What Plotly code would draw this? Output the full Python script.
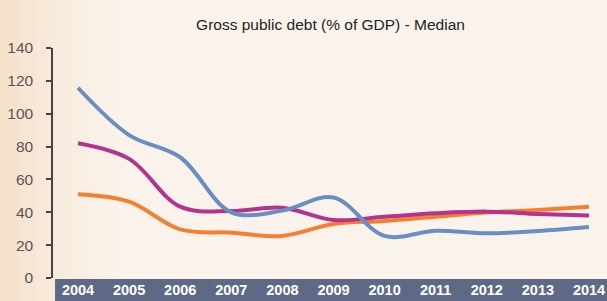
import plotly.graph_objects as go

years = [2004, 2005, 2006, 2007, 2008, 2009, 2010, 2011, 2012, 2013, 2014]
series_blue = [115.8, 87, 73.5, 40, 41, 49, 25.6, 28.8, 27.2, 28.6, 31]
series_magenta = [82, 72.5, 43.4, 40.8, 42.8, 35.3, 37.3, 39.4, 40.4, 39, 38]
series_orange = [51, 46.5, 29.6, 27.6, 25.6, 32.9, 34.7, 37.3, 39.8, 41.4, 43.4]
y_ticks = [0, 20, 40, 60, 80, 100, 120, 140]
title_text = "Gross public debt (% of GDP) - Median"

W, H = 607, 301
ML, MR, MT, MB = 53, 0, 48, 23
PW = W - ML - MR
PH = H - MT - MB
FONT = "Liberation Sans, Arial, sans-serif"

def px2paper_x(p):
    return (p - ML) / PW

def px2paper_y(p):
    return (H - MB - p) / PH

fig = go.Figure()
for vals, col in [(series_orange, "#F4802F"), (series_magenta, "#B3338E"), (series_blue, "#6A8EC2")]:
    fig.add_trace(go.Scatter(x=years, y=vals, mode="lines",
                             line=dict(color=col, width=4, shape="spline", smoothing=1.0),
                             hoverinfo="skip", showlegend=False))

shapes = []
# left gradient
steps = 14
for i in range(steps):
    x0 = i * 9
    x1 = x0 + 9
    op = 0.7 * (1 - i / steps) ** 1.5
    shapes.append(dict(type="rect", xref="paper", yref="paper",
                       x0=px2paper_x(x0), x1=px2paper_x(x1),
                       y0=px2paper_y(H), y1=px2paper_y(0),
                       fillcolor="#F3D9BC", opacity=op, line=dict(width=0), layer="below"))
# x band
shapes.append(dict(type="rect", xref="paper", yref="paper",
                   x0=px2paper_x(55), x1=1.0,
                   y0=px2paper_y(H), y1=px2paper_y(279),
                   fillcolor="#5E6A85", line=dict(width=0), layer="below"))

fig.update_layout(
    width=W, height=H,
    margin=dict(l=ML, r=MR, t=MT, b=MB),
    paper_bgcolor="#FAF3EC",
    plot_bgcolor="rgba(0,0,0,0)",
    shapes=shapes,
    title=dict(text=title_text, x=330.5 / W, xanchor="center",
               y=1 - 25 / H, yanchor="middle",
               font=dict(family=FONT, size=15.5, color="#222222")),
    xaxis=dict(range=[2004 - 25 / 51.1, 2014 + 18 / 51.1], tickvals=years,
               ticktext=[str(y) for y in years], showgrid=False, zeroline=False,
               showline=False, ticks="",
               tickfont=dict(family=FONT, size=14.5, color="white", weight="bold"),
               ticklabelstandoff=1),
    yaxis=dict(range=[0, 140], tickvals=y_ticks, showgrid=False, zeroline=False,
               showline=True, linecolor="#444444", linewidth=1.5,
               ticks="outside", ticklen=5, tickcolor="#444444", tickwidth=1.5,
               tickfont=dict(family=FONT, size=15.5, color="#555555"),
               ticklabelstandoff=10),
)

fig.write_html("out.html", config={"displayModeBar": False},
               post_script="document.body.style.margin='0';document.body.style.overflow='hidden';")
